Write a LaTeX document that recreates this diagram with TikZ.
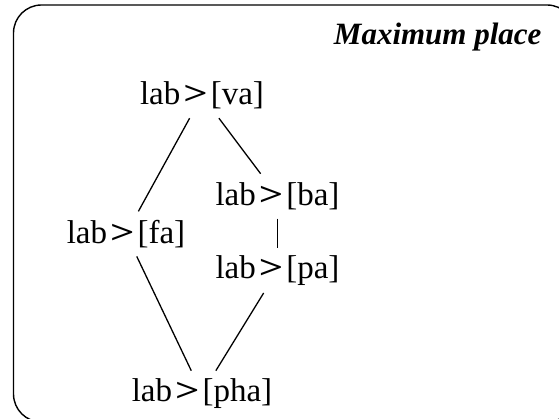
\documentclass[tikz,border=0pt]{standalone}
\usepackage{fontspec}
\usepackage{graphicx}
\setmainfont{Liberation Serif}
\newcommand{\gtsign}{\kern3pt\scalebox{1.3}[1]{\bfseries >}\kern3pt}
\begin{document}
\begin{tikzpicture}[
        x=1pt, y=1pt,
        lbl/.style={inner sep=0pt, outer sep=0pt, minimum height=45pt, font=\fontsize{33}{38}\selectfont},
        link/.style={line width=1.3pt}
    ]
        \useasboundingbox (0,0) rectangle (559,419);
        \draw[line width=1.4pt, rounded corners=28pt] (13.5,-3) rectangle (575,414);
        \node[anchor=base east, font=\fontsize{31}{36}\selectfont\bfseries\itshape] (title) at (545,374.4) {Maximum place};

        \node[lbl] (va) at (202,323.3) {lab\gtsign[va]};
        \node[lbl] (fa) at (126,185.1) {lab\gtsign[fa]};
        \node[lbl] (ba) at (277.5,222.8) {lab\gtsign[ba]};
        \node[lbl] (pa) at (277.5,148.5) {lab\gtsign[pa]};
        \node[lbl] (pha) at (202,25.8) {lab\gtsign[pha]};

        \draw[link] (va) -- (fa);
        \draw[link] (va) -- (ba);
        \draw[link] (ba) -- (pa);
        \draw[link] (fa) -- (pha);
        \draw[link] (pa) -- (pha);
    \end{tikzpicture}
\end{document}
